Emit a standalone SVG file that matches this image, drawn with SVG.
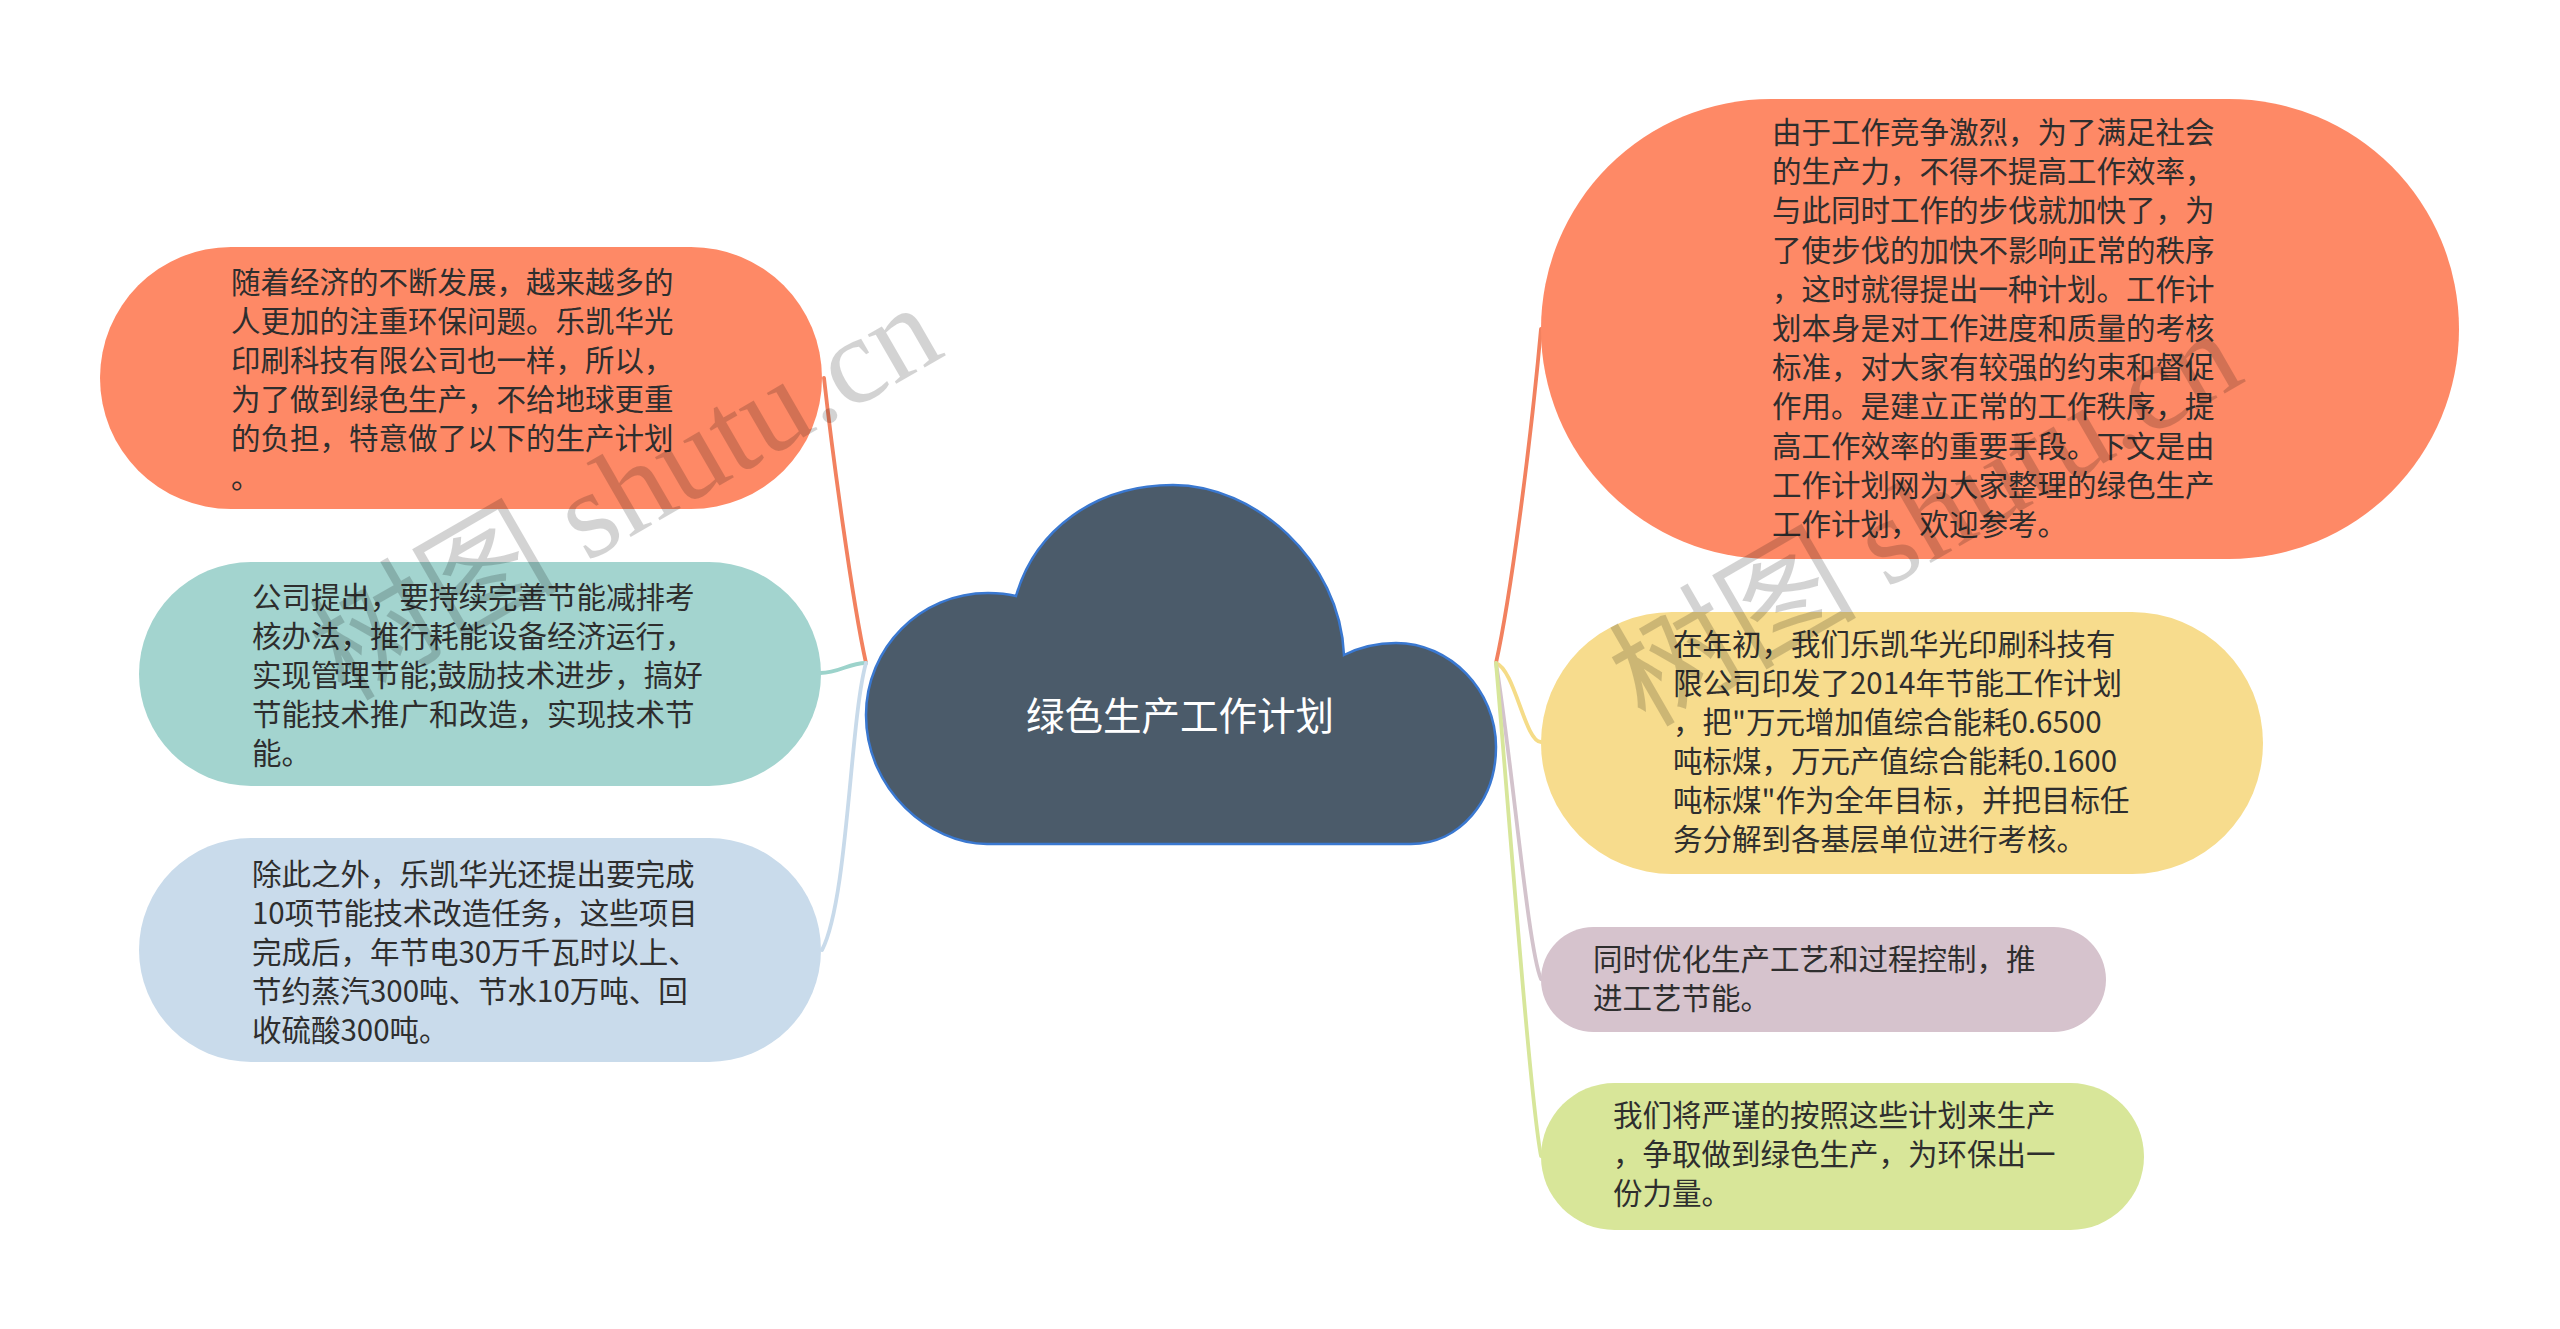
<svg xmlns="http://www.w3.org/2000/svg" width="2560" height="1329" viewBox="0 0 2560 1329">
<style>
.t{font-family:"Noto Sans CJK SC","Noto Sans",sans-serif;font-size:29.5px;fill:#2e2e2e;}
.c{fill:none;stroke-width:3.8;stroke-linecap:round;}
.wm{font-family:"Liberation Serif","Noto Sans CJK SC",serif;font-size:124px;fill:#000;opacity:0.17;}
</style>
<rect width="2560" height="1329" fill="#ffffff"/>
<g id="connectors">
<path class="c" stroke="#F2815F" d="M866 663 C852 600 832 450 824 378"/>
<path class="c" stroke="#9CD3CB" d="M866 663 C848 663 840 673 820 673"/>
<path class="c" stroke="#C8DAEA" d="M866 663 C850 720 848 900 822 950"/>
<path class="c" stroke="#F2815F" d="M1496 663 C1510 600 1530 450 1541 329"/>
<path class="c" stroke="#F5DC88" d="M1496 663 C1515 670 1525 742 1541 742"/>
<path class="c" stroke="#D3C3CC" d="M1496 663 C1512 760 1528 950 1541 979"/>
<path class="c" stroke="#D7E69A" d="M1496 663 C1508 800 1530 1100 1541 1156"/>
</g>
<g id="root">
<path d="M987 844 C930 844 866 790 866 715 C866 648 920 593 988 593 C998 593 1008 594 1016 596 C1035 530 1095 485 1173 485 C1255 485 1340 560 1344 655 C1360 647 1378 643 1396 643 C1450 643 1496 690 1496 747 C1496 800 1460 844 1411 844 Z" fill="#4B5B6A" stroke="#3A78D0" stroke-width="2.5"/>
<text x="1180" y="730" text-anchor="middle" style="font-family:'Noto Sans CJK SC',sans-serif;font-size:38.5px;fill:#ffffff;">绿色生产工作计划</text>
</g>
<g id="node-l1">
<rect x="100" y="247" width="722" height="262" rx="131" fill="#FE8966"/>
<text class="t"><tspan x="231" y="293">随着经济的不断发展，越来越多的</tspan><tspan x="231" y="332">人更加的注重环保问题。乐凯华光</tspan><tspan x="231" y="371">印刷科技有限公司也一样，所以，</tspan><tspan x="231" y="410">为了做到绿色生产，不给地球更重</tspan><tspan x="231" y="449">的负担，特意做了以下的生产计划</tspan><tspan x="231" y="488">。</tspan></text>
</g>
<g id="node-l2">
<rect x="139" y="562" width="682" height="224" rx="112" fill="#A3D4CF"/>
<text class="t"><tspan x="252" y="608">公司提出，要持续完善节能减排考</tspan><tspan x="252" y="647">核办法，推行耗能设备经济运行，</tspan><tspan x="252" y="686">实现管理节能;鼓励技术进步，搞好</tspan><tspan x="252" y="725">节能技术推广和改造，实现技术节</tspan><tspan x="252" y="764">能。</tspan></text>
</g>
<g id="node-l3">
<rect x="139" y="838" width="682" height="224" rx="112" fill="#C9DBEB"/>
<text class="t"><tspan x="252" y="885">除此之外，乐凯华光还提出要完成</tspan><tspan x="252" y="924">10项节能技术改造任务，这些项目</tspan><tspan x="252" y="963">完成后，年节电30万千瓦时以上、</tspan><tspan x="252" y="1002">节约蒸汽300吨、节水10万吨、回</tspan><tspan x="252" y="1041">收硫酸300吨。</tspan></text>
</g>
<g id="node-r1">
<rect x="1541" y="99" width="918" height="460" rx="230" fill="#FE8966"/>
<text class="t"><tspan x="1772" y="143">由于工作竞争激烈，为了满足社会</tspan><tspan x="1772" y="182">的生产力，不得不提高工作效率，</tspan><tspan x="1772" y="221">与此同时工作的步伐就加快了，为</tspan><tspan x="1772" y="261">了使步伐的加快不影响正常的秩序</tspan><tspan x="1772" y="300">，这时就得提出一种计划。工作计</tspan><tspan x="1772" y="339">划本身是对工作进度和质量的考核</tspan><tspan x="1772" y="378">标准，对大家有较强的约束和督促</tspan><tspan x="1772" y="417">作用。是建立正常的工作秩序，提</tspan><tspan x="1772" y="457">高工作效率的重要手段。下文是由</tspan><tspan x="1772" y="496">工作计划网为大家整理的绿色生产</tspan><tspan x="1772" y="535">工作计划，欢迎参考。</tspan></text>
</g>
<g id="node-r2">
<rect x="1541" y="612" width="722" height="262" rx="131" fill="#F7DC8D"/>
<text class="t"><tspan x="1673" y="655">在年初，我们乐凯华光印刷科技有</tspan><tspan x="1673" y="694">限公司印发了2014年节能工作计划</tspan><tspan x="1673" y="733">，把"万元增加值综合能耗0.6500</tspan><tspan x="1673" y="772">吨标煤，万元产值综合能耗0.1600</tspan><tspan x="1673" y="811">吨标煤"作为全年目标，并把目标任</tspan><tspan x="1673" y="850">务分解到各基层单位进行考核。</tspan></text>
</g>
<g id="node-r3">
<rect x="1541" y="927" width="565" height="105" rx="52.5" fill="#D6C3CD"/>
<text class="t"><tspan x="1593" y="970">同时优化生产工艺和过程控制，推</tspan><tspan x="1593" y="1009">进工艺节能。</tspan></text>
</g>
<g id="node-r4">
<rect x="1541" y="1083" width="603" height="147" rx="73.5" fill="#D8E699"/>
<text class="t"><tspan x="1613" y="1126">我们将严谨的按照这些计划来生产</tspan><tspan x="1613" y="1165">，争取做到绿色生产，为环保出一</tspan><tspan x="1613" y="1204">份力量。</tspan></text>
</g>
<g id="watermark">
<text class="wm" transform="translate(345,702) rotate(-30)">树图 shutu.cn</text>
<text class="wm" transform="translate(1645,728) rotate(-30)">树图 shutu.cn</text>
</g>
</svg>
